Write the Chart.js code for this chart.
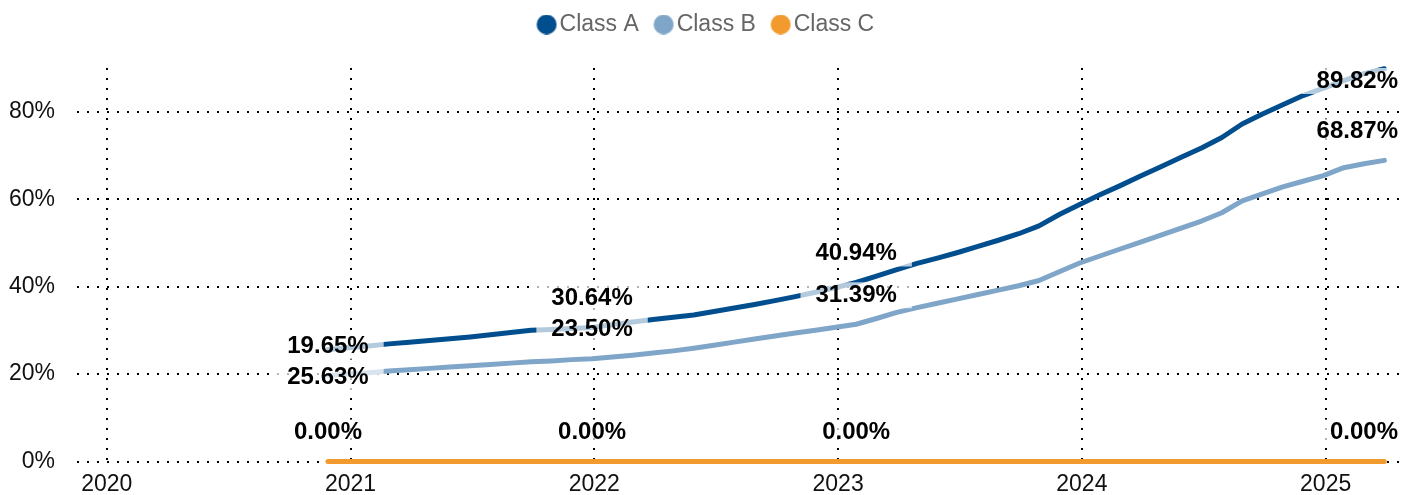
<!DOCTYPE html>
<html>
<head>
<meta charset="utf-8">
<script src="https://cdn.jsdelivr.net/npm/chart.js@4/dist/chart.umd.min.js"></script>
<style>
  html, body { margin: 0; padding: 0; background: #fff; }
  canvas { display: block; }
</style>
</head>
<body>
<canvas id="c" width="1413" height="495" style="width:1413px;height:495px"></canvas>
<script>
// ---- Data ----
const months = [
  "2020-11","2020-12",
  "2021-01","2021-02","2021-03","2021-04","2021-05","2021-06","2021-07","2021-08","2021-09","2021-10","2021-11","2021-12",
  "2022-01","2022-02","2022-03","2022-04","2022-05","2022-06","2022-07","2022-08","2022-09","2022-10","2022-11","2022-12",
  "2023-01","2023-02","2023-03","2023-04","2023-05","2023-06","2023-07","2023-08","2023-09","2023-10","2023-11","2023-12",
  "2024-01","2024-02","2024-03","2024-04","2024-05","2024-06","2024-07","2024-08","2024-09","2024-10","2024-11","2024-12",
  "2025-01","2025-02","2025-03"
];
const seriesNames = ["Class A", "Class B", "Class C"];
const classA = [
  25.63, 26.0, 26.4, 26.9, 27.3, 27.7, 28.1, 28.5, 29.0, 29.5, 30.0, 30.2, 30.4, 30.64,
  31.3, 31.9, 32.5, 33.0, 33.5, 34.3, 35.1, 35.9, 36.8, 37.7, 38.7, 39.8,
  40.94, 42.4, 43.9, 45.3, 46.5, 47.8, 49.2, 50.6, 52.1, 53.9, 56.5, 58.8,
  61.0, 63.1, 65.3, 67.4, 69.6, 71.7, 74.1, 77.2, 79.5, 81.6, 83.7, 85.4,
  87.1, 88.7, 89.82
];
const classB = [
  19.65, 20.0, 20.3, 20.7, 21.0, 21.3, 21.6, 21.9, 22.2, 22.5, 22.8, 23.0, 23.3, 23.50,
  23.9, 24.3, 24.8, 25.3, 25.9, 26.6, 27.3, 28.0, 28.7, 29.4, 30.0, 30.7,
  31.39, 32.7, 34.1, 35.2, 36.2, 37.2, 38.2, 39.2, 40.2, 41.4, 43.4, 45.4,
  47.0, 48.6, 50.2, 51.8, 53.4, 55.0, 56.9, 59.6, 61.2, 62.8, 64.1, 65.4,
  67.2, 68.1, 68.87
];
const classC = [
  0, 0,
  0, 0, 0, 0, 0, 0, 0, 0, 0, 0, 0, 0,
  0, 0, 0, 0, 0, 0, 0, 0, 0, 0, 0, 0,
  0, 0, 0, 0, 0, 0, 0, 0, 0, 0, 0, 0,
  0, 0, 0, 0, 0, 0, 0, 0, 0, 0, 0, 0,
  0, 0, 0
];
const labelIndices = [0, 13, 26, 52];
const yTicks = [0, 20, 40, 60, 80];
const xTickYears = [2020, 2021, 2022, 2023, 2024, 2025];

// ---- Styling ----
const colors = ["#004e8e", "#7fa6c8", "#f29a2e"];
const FONT = "'Liberation Sans', Arial, Helvetica, sans-serif";
Chart.defaults.font.family = FONT;

// month string -> decimal year (points sit near the end of each month)
function toYear(s) {
  const [y, m] = s.split("-").map(Number);
  return y + (m - 1 + 0.89) / 12;
}
function pts(values) {
  return months.map((s, i) => ({ x: toYear(s), y: values[i] }));
}

function dot(color) {
  const c = document.createElement("canvas");
  c.width = 32; c.height = 20;
  const g = c.getContext("2d");
  g.fillStyle = color;
  g.beginPath();
  g.arc(21.15, 10, 10, 0, Math.PI * 2);
  g.fill();
  return c;
}

const legendSpacer = {
  id: "legendSpacer",
  beforeInit(chart) {
    const fit = chart.legend.fit;
    chart.legend.fit = function () { fit.call(this); this.height += 22; };
  }
};

const pointLabels = {
  id: "pointLabels",
  afterDatasetsDraw(chart, args, opts) {
    const ctx = chart.ctx;
    const area = chart.chartArea;
    ctx.save();
    ctx.font = "bold 24px " + FONT;
    ctx.textAlign = "center";
    ctx.textBaseline = "middle";
    chart.data.datasets.forEach((ds, di) => {
      const meta = chart.getDatasetMeta(di);
      opts.indices.forEach(idx => {
        const el = meta.data[idx];
        if (!el) return;
        const v = ds.data[idx].y;
        const text = v.toFixed(2) + "%";
        const below = (opts.below[di] || []).includes(idx);
        let cy = below ? el.y + opts.offsetBelow : el.y - opts.offsetAbove;
        const tw = ctx.measureText(text).width;
        const bw = tw + opts.padX * 2, bh = opts.boxH;
        let cx = el.x;
        if (cy - bh / 2 < area.top) cy = area.top + bh / 2;
        if (cx + bw / 2 > chart.width) cx = chart.width - bw / 2;
        if (cx - bw / 2 < 0) cx = bw / 2;
        ctx.fillStyle = "rgba(255,255,255,0.7)";
        ctx.fillRect(cx - bw / 2, cy - bh / 2, bw, bh);
        ctx.fillStyle = "#000";
        ctx.fillText(text, cx, cy);
      });
    });
    ctx.restore();
  }
};

const gridStyle = { color: "#000", lineWidth: 2, drawTicks: false, borderDash: [2, 8] };
const borderStyle = { display: false, dash: [2, 8] };

const data = [classA, classB, classC];
new Chart(document.getElementById("c"), {
  type: "line",
  data: {
    datasets: data.map((vals, i) => ({
      label: seriesNames[i],
      data: pts(vals),
      borderColor: colors[i],
      backgroundColor: colors[i],
      borderWidth: 5,
      borderCapStyle: "round",
      borderJoinStyle: "round",
      pointRadius: 0,
      pointHoverRadius: 0,
      tension: 0,
      fill: false,
      clip: false
    }))
  },
  options: {
    responsive: false,
    devicePixelRatio: 1,
    animation: false,
    layout: { padding: { left: 9, right: 13, top: 0, bottom: 0 } },
    plugins: {
      tooltip: { enabled: false },
      legend: {
        position: "top",
        align: "center",
        labels: {
          usePointStyle: true,
          boxWidth: 13.3,
          padding: 13,
          color: "#666",
          font: { size: 23, family: FONT },
          generateLabels(chart) {
            const items = Chart.defaults.plugins.legend.labels.generateLabels(chart);
            items.forEach((it, i) => { it.pointStyle = dot(colors[i]); });
            return items;
          }
        }
      },
      pointLabels: {
        indices: labelIndices,
        below: { 0: [0] },
        offsetAbove: 29,
        offsetBelow: 28,
        padX: 15,
        boxH: 26
      }
    },
    scales: {
      x: {
        type: "linear",
        min: 2019.878,
        max: 2025.305,
        afterBuildTicks(scale) {
          scale.ticks = xTickYears.map(v => ({ value: v }));
        },
        afterFit(scale) { scale.height = 33.5; },
        ticks: {
          color: "#111",
          padding: 12.8,
          maxRotation: 0,
          autoSkip: false,
          font: { size: 23, family: FONT, lineHeight: 0.9 },
          callback: v => String(v)
        },
        grid: gridStyle,
        border: borderStyle
      },
      y: {
        min: 0,
        max: 90,
        afterBuildTicks(scale) {
          scale.ticks = yTicks.map(v => ({ value: v }));
        },
        afterFit(scale) {
          scale.width = 68;
          scale.paddingTop = 0;
          scale.paddingBottom = 0;
        },
        ticks: {
          color: "#111",
          padding: 22,
          font: { size: 23, family: FONT },
          callback: v => v + "%"
        },
        grid: gridStyle,
        border: borderStyle
      }
    }
  },
  plugins: [legendSpacer, pointLabels]
});
</script>
</body>
</html>
